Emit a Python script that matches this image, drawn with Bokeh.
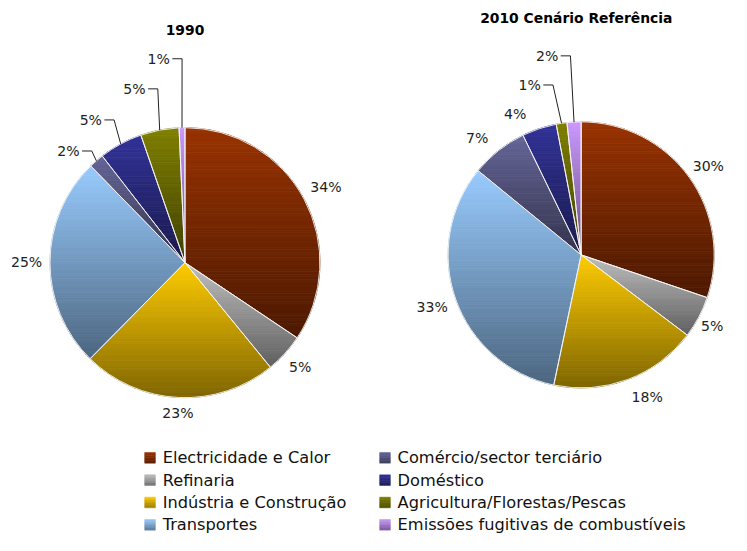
import math
from bokeh.plotting import figure
from bokeh.models import Range1d
from bokeh.core.properties import value
from bokeh.embed import file_html
from bokeh.resources import INLINE

# ---------------- data ----------------
categories = ["Electricidade e Calor", "Refinaria", "Indústria e Construção", "Transportes",
              "Comércio/sector terciário", "Doméstico", "Agricultura/Florestas/Pescas",
              "Emissões fugitivas de combustíveis"]
colors = ["#993300", "#C0C0C0", "#FFCC00", "#99CCFF", "#666699", "#333399", "#808000", "#CC99FF"]
shares_1990 = [34.4, 4.7, 23.3, 25.3, 1.8, 5.2, 4.6, 0.7]
shares_2010 = [30.2, 5.1, 18.0, 32.6, 6.9, 4.2, 1.3, 1.7]
labels_1990 = ["34%", "5%", "23%", "25%", "2%", "5%", "5%", "1%"]
labels_2010 = ["30%", "5%", "18%", "33%", "7%", "4%", "1%", "2%"]
titles = ["1990", "2010 Cenário Referência"]

# ---------------- layout ----------------
# Page: 747x551 window with an 8px margin -> 731x535 figure.
# Layout is expressed in a 747x551 design space, uniformly scaled into the figure.
PW, PH = 731, 535
DH = 551.0
S = PH / DH                      # px per design unit
FONT = "DejaVu Sans"
LABEL_FS = 14.5                  # design units
TITLE_FS = 14.3


def Y(img_y):
    return DH - img_y


def fs(sz):
    return f"{sz * S:.2f}px"


def hex2rgb(h):
    h = h.lstrip("#")
    return [int(h[i:i + 2], 16) for i in (0, 2, 4)]


def shade(hexcol, t):
    """t=0 -> base colour (top), t=1 -> darker colour (bottom)."""
    r, g, b = hex2rgb(hexcol)
    f = 1.0 - 0.5 * t
    return "#%02x%02x%02x" % (int(r * f), int(g * f), int(b * f))


def clip_half(pts, inside, yl):
    out = []
    n = len(pts)
    for k in range(n):
        cur = pts[k]
        prev = pts[k - 1]
        cin, pin = inside(cur), inside(prev)
        if cin != pin:
            t = (yl - prev[1]) / (cur[1] - prev[1])
            out.append((prev[0] + t * (cur[0] - prev[0]), yl))
        if cin:
            out.append(cur)
    return out


p = figure(width=PW, height=PH, x_range=Range1d(0, PW / S), y_range=Range1d(0, DH),
           output_backend="svg", toolbar_location=None, min_border=0,
           x_axis_location=None, y_axis_location=None)
p.grid.visible = False
p.outline_line_color = None
p.background_fill_color = "white"
p.border_fill_color = "white"

band_xs, band_ys, band_cols = [], [], []


def draw_pie(shares, labels, cx_img, cy_img, r, title, title_pos, overrides):
    cx, cy = cx_img, Y(cy_img)
    total = float(sum(shares))
    cum = 0.0
    starts, ends = [], []
    lx, ly, lt = [], [], []
    leaders_x, leaders_y = [], []
    for i, s in enumerate(shares):
        t0 = 2 * math.pi * cum / total
        t1 = 2 * math.pi * (cum + s) / total
        cum += s
        starts.append(math.pi / 2 - t1)
        ends.append(math.pi / 2 - t0)
        nseg = max(3, int(math.degrees(t1 - t0)) + 2)
        poly = [(cx, cy)] + [(cx + r * math.sin(t0 + (t1 - t0) * k / (nseg - 1)),
                              cy + r * math.cos(t0 + (t1 - t0) * k / (nseg - 1)))
                             for k in range(nseg)]
        ymax = max(q[1] for q in poly)
        ymin = min(q[1] for q in poly)
        hgt = ymax - ymin
        nb = max(2, int(hgt / 2.5))
        for b in range(nb):
            yt = ymax - hgt * b / nb
            yb = ymax - hgt * (b + 1) / nb
            part = clip_half(poly, lambda q: q[1] <= yt + 1e-9, yt)
            if len(part) < 3:
                continue
            part = clip_half(part, lambda q: q[1] >= yb - 1e-9, yb)
            if len(part) < 3:
                continue
            band_xs.append([q[0] for q in part])
            band_ys.append([q[1] for q in part])
            band_cols.append(shade(colors[i], (b + 0.5) / nb))
        # labels
        tm = (t0 + t1) / 2
        txt = labels[i]
        if i in overrides:
            ox, oy = overrides[i][0], Y(overrides[i][1])
            lx.append(ox); ly.append(oy); lt.append(txt)
            if overrides[i][2]:
                ax = cx + r * math.sin(tm)
                ay = cy + r * math.cos(tm)
                leaders_x.append([ox + 14, ox + 24, ax])
                leaders_y.append([oy, oy, ay])
        else:
            ndig = len(txt) - 1
            w = (0.636 * ndig + 0.95) * LABEL_FS
            h = LABEL_FS
            ext = abs(math.sin(tm)) * w / 2 + abs(math.cos(tm)) * h / 2
            d = r + 8 + ext
            lx.append(cx + d * math.sin(tm))
            ly.append(cy + d * math.cos(tm))
            lt.append(txt)
    return dict(cx=cx, cy=cy, r=r, starts=starts, ends=ends, lx=lx, ly=ly, lt=lt,
                lead_x=leaders_x, lead_y=leaders_y, title=title, title_pos=title_pos)


pies = [
    draw_pie(shares_1990, labels_1990, 190, 270, 139, titles[0], (190, 30),
             {4: (70, 155, True), 5: (93, 123, True), 6: (138, 91, True), 7: (163, 60, True)}),
    draw_pie(shares_2010, labels_2010, 598, 262, 137, titles[1], (593, 18),
             {0: (729, 170, False), 1: (733, 335, False), 2: (666, 408, False),
              4: (491, 142, False), 5: (530, 117, False), 6: (545, 87, True), 7: (563, 57, True)}),
]

p.patches(band_xs, band_ys, fill_color=band_cols, line_color=band_cols, line_width=0.8)

for pie in pies:
    n = len(pie["starts"])
    p.wedge(x=[pie["cx"]] * n, y=[pie["cy"]] * n, radius=pie["r"],
            start_angle=pie["starts"], end_angle=pie["ends"], direction="anticlock",
            fill_color=None, line_color="#f4f4f4", line_width=1.0, line_alpha=0.9)
    p.multi_line(pie["lead_x"], pie["lead_y"], line_color="#222222", line_width=1)
    p.text(x=pie["lx"], y=pie["ly"], text=pie["lt"], text_font=value(FONT),
           text_font_size=fs(LABEL_FS), text_align="center", text_baseline="middle",
           text_color="#222222")
    p.text(x=[pie["title_pos"][0]], y=[Y(pie["title_pos"][1])], text=[pie["title"]],
           text_font=value(FONT), text_font_style="bold", text_font_size=fs(TITLE_FS),
           text_align="center", text_baseline="middle", text_color="#000000")

# ---------------- legend ----------------
leg_rows = [471, 494, 517, 540]
leg_cols = [(154, 167), (396, 409)]
sw = 11
qx0, qx1, qy0, qy1, qc = [], [], [], [], []
tx, ty, tt = [], [], []
for i, name in enumerate(categories):
    col, row = divmod(i, 4)
    sx, txx = leg_cols[col]
    sy = leg_rows[row]
    nb = 4
    for b in range(nb):
        top = Y(sy - sw / 2 + sw * b / nb)
        bot = Y(sy - sw / 2 + sw * (b + 1) / nb)
        qx0.append(sx - sw / 2); qx1.append(sx + sw / 2)
        qy0.append(bot); qy1.append(top)
        qc.append(shade(colors[i], (b + 0.5) / nb * 0.8))
    tx.append(txx); ty.append(Y(sy)); tt.append(name)

p.quad(left=qx0, right=qx1, bottom=qy0, top=qy1, fill_color=qc, line_color=qc, line_width=0.5)
p.text(x=tx, y=ty, text=tt, text_font=value(FONT), text_font_size=fs(16.7),
       text_align="left", text_baseline="middle", text_color="#111111")

open("out.html", "w").write(file_html(p, INLINE))
